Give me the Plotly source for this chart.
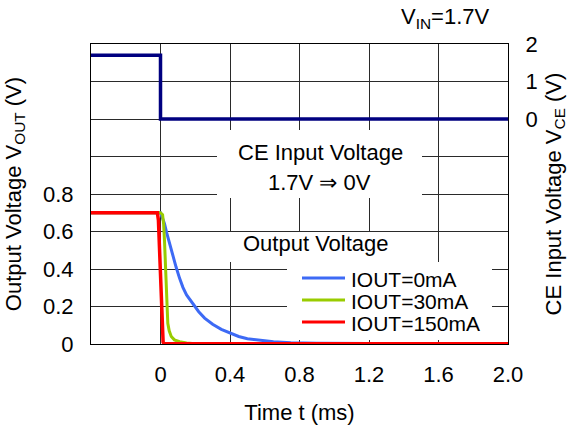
import plotly.graph_objects as go

# ---- data ----
# CE input voltage step (right axis)
ce_t = [-0.4, 0.0, 0.0, 2.0]
ce_v = [1.7, 1.7, 0.0, 0.0]

# Output voltage, IOUT = 0 mA
out0_t = [-0.4, 0.0, 0.01, 0.023, 0.035, 0.052, 0.07, 0.09, 0.11, 0.129, 0.15,
          0.186, 0.22, 0.254, 0.3, 0.35, 0.4, 0.45, 0.5, 0.58, 0.65, 0.75,
          0.9, 1.2, 1.6, 2.0]
out0_v = [0.70, 0.70, 0.675, 0.642, 0.595, 0.536, 0.47, 0.409, 0.35, 0.302, 0.262,
          0.212, 0.172, 0.138, 0.105, 0.078, 0.057, 0.04, 0.028, 0.018, 0.012, 0.007,
          0.004, 0.003, 0.003, 0.003]

# Output voltage, IOUT = 30 mA
out30_t = [-0.4, 0.0, 0.012, 0.018, 0.023, 0.028, 0.033, 0.038, 0.042, 0.05,
           0.062, 0.08, 0.11, 0.15, 0.2, 2.0]
out30_v = [0.70, 0.70, 0.69, 0.64, 0.55, 0.42, 0.29, 0.19, 0.11, 0.07,
           0.04, 0.022, 0.012, 0.005, 0.002, 0.002]

# Output voltage, IOUT = 150 mA
out150_t = [-0.4, -0.018, -0.012, -0.005, 0.0, 0.005, 0.01, 0.015, 0.02, 2.0]
out150_v = [0.70, 0.70, 0.66, 0.50, 0.35, 0.20, 0.06, 0.01, 0.002, 0.002]

series_names = ["IOUT=0mA", "IOUT=30mA", "IOUT=150mA"]
series_colors = ["#3d6af5", "#99cc00", "#ff0000"]

x_tickvals = [0, 0.4, 0.8, 1.2, 1.6, 2.0]
x_ticktext = ["0", "0.4", "0.8", "1.2", "1.6", "2.0"]
y_tickvals = [0, 0.2, 0.4, 0.6, 0.8]
y_ticktext = ["0", "0.2", "0.4", "0.6", "0.8"]
y_grid_extra = [1.0, 1.2, 1.4]
y2_tickvals = [0, 1, 2]
y2_ticktext = ["0", "1", "2"]

FONT = "Liberation Sans, Arial, sans-serif"
FS = 22
GRID = "#2a2a2a"
W, H = 571, 425
L, R, T, B = 91, 63, 44, 81
PW, PH = W - L - R, H - T - B


def px(x):
    return (x - L) / PW


def py(y):
    return (T + PH - y) / PH


fig = go.Figure()

fig.add_trace(go.Scatter(x=ce_t, y=ce_v, yaxis="y2", mode="lines",
                         line=dict(color="#000080", width=3.5),
                         name="CE", showlegend=False))
for t, v, n, c, w in [(out0_t, out0_v, series_names[0], series_colors[0], 3),
                      (out30_t, out30_v, series_names[1], series_colors[1], 3),
                      (out150_t, out150_v, series_names[2], series_colors[2], 3.5)]:
    fig.add_trace(go.Scatter(x=t, y=v, mode="lines", line=dict(color=c, width=w),
                             name=n, showlegend=False))

shapes = []
# white panels behind the in-plot texts (hide the gridlines there)
for x0, y0, x1, y1 in [(217, 130, 422, 198), (225, 232, 400, 262), (287, 262, 492, 340)]:
    shapes.append(dict(type="rect", xref="paper", yref="paper", layer="above",
                       x0=px(x0), x1=px(x1), y0=py(y1), y1=py(y0),
                       fillcolor="white", line=dict(width=0)))

annotations = [
    dict(text="V<sub>IN</sub>=1.7V", x=px(445), y=py(18)),
    dict(text="CE Input Voltage", x=px(320), y=py(152)),
    dict(text="1.7V ⇒ 0V", x=px(319), y=py(182)),
    dict(text="Output Voltage", x=px(316), y=py(243)),
]
# legend entries
for i, (n, c) in enumerate(zip(series_names, series_colors)):
    yy = 278 + 22 * i
    shapes.append(dict(type="line", xref="paper", yref="paper", layer="above",
                       x0=px(302), x1=px(345), y0=py(yy), y1=py(yy),
                       line=dict(color=c, width=3)))
    annotations.append(dict(text=n, x=px(349), y=py(yy + 1), xanchor="left",
                            font=dict(family=FONT, size=21, color="black")))

for a in annotations:
    a.setdefault("xanchor", "center")
    a.setdefault("font", dict(family=FONT, size=FS, color="black"))
    a.update(xref="paper", yref="paper", yanchor="middle", showarrow=False)

axis_common = dict(showline=True, linecolor="black", linewidth=1.2,
                   zeroline=False, ticks="",
                   tickfont=dict(family=FONT, size=FS, color="black"))

fig.update_layout(
    width=W, height=H,
    margin=dict(l=L, r=R, t=T, b=B, autoexpand=False),
    paper_bgcolor="white", plot_bgcolor="white",
    showlegend=False,
    xaxis=dict(range=[-0.4, 2.0], tickvals=x_tickvals, ticktext=x_ticktext,
               showgrid=True, gridcolor=GRID, gridwidth=1, mirror=True,
               ticklabelstandoff=10,
               title=dict(text="Time t (ms)", standoff=20,
                          font=dict(family=FONT, size=FS, color="black")),
               **axis_common),
    yaxis=dict(range=[0, 1.6], tickvals=y_tickvals, ticktext=y_ticktext,
               showgrid=True, gridcolor=GRID, gridwidth=1,
               minor=dict(tickvals=y_grid_extra, showgrid=True, gridcolor=GRID,
                          gridwidth=1, ticks=""),
               ticklabelstandoff=12,
               title=dict(text="Output Voltage V<sub>OUT</sub> (V)", standoff=15,
                          font=dict(family=FONT, size=FS, color="black")),
               **axis_common),
    yaxis2=dict(range=[-6, 2], tickvals=y2_tickvals, ticktext=y2_ticktext,
                overlaying="y", side="right", showgrid=False,
                ticklabelstandoff=12,
                title=dict(text="CE Input Voltage V<sub>CE</sub> (V)", standoff=8,
                           font=dict(family=FONT, size=FS, color="black")),
                **axis_common),
    shapes=shapes,
    annotations=annotations,
)

fig.write_html("out.html")
